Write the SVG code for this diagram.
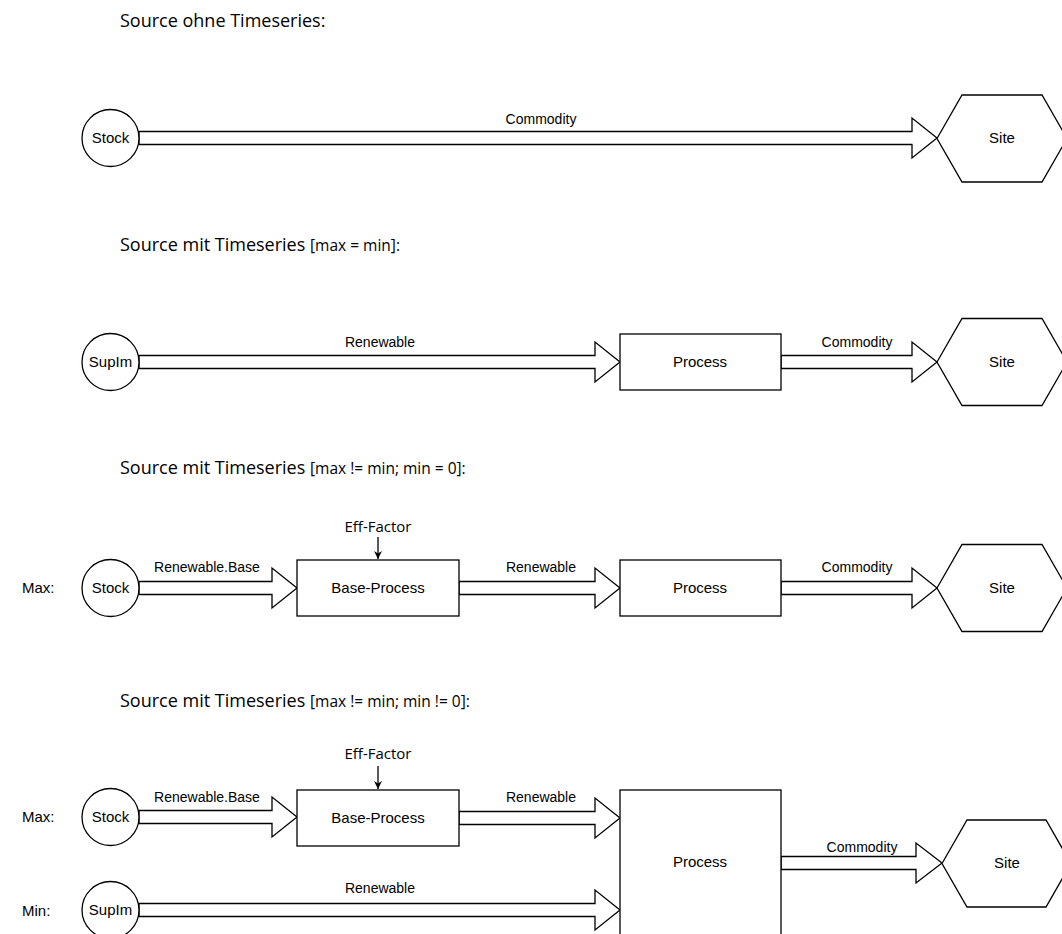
<svg xmlns="http://www.w3.org/2000/svg" width="1062" height="934" viewBox="0 0 1062 934">
<style>
.shape{fill:#fff;stroke:#000;stroke-width:1.3}
.arrow{fill:#fff;stroke:#000;stroke-width:1.3;stroke-linejoin:miter}
.nl{font-family:"Liberation Sans",Arial,sans-serif;font-size:15px;fill:#000;text-anchor:middle}
.el{font-family:"Liberation Sans",Arial,sans-serif;font-size:14px;fill:#000;text-anchor:middle}
.side{font-family:"Liberation Sans",Arial,sans-serif;font-size:15px;fill:#000}
.title{font-family:"Open Sans",sans-serif;font-size:18px;fill:#000}
.small{font-size:15.5px}
.eff{font-family:"Open Sans",sans-serif;font-size:15px;fill:#000;text-anchor:middle}
</style>
<defs>
<marker id="ah" viewBox="0 0 10 10" refX="10" refY="5" markerWidth="8" markerHeight="8" markerUnits="userSpaceOnUse" orient="auto">
<path d="M0,0 L10,5 L0,10 L3,5 Z" fill="#000"/>
</marker>
</defs>
<rect width="1062" height="934" fill="#fff"/>

<!-- titles -->
<text class="title" x="120" y="27">Source ohne Timeseries:</text>
<text class="title" x="120" y="251">Source mit Timeseries <tspan class="small">[max = min]:</tspan></text>
<text class="title" x="120" y="474">Source mit Timeseries <tspan class="small">[max != min; min = 0]:</tspan></text>
<text class="title" x="120" y="707">Source mit Timeseries <tspan class="small">[max != min; min != 0]:</tspan></text>

<text class="side" x="22" y="593">Max:</text>
<text class="side" x="22" y="822">Max:</text>
<text class="side" x="22" y="916">Min:</text>

<!-- connectors -->
<g id="connectors">
<polygon class="arrow" points="139,131.5 912,131.5 912,118 937,138 912,158 912,144.5 139,144.5"/>
<text class="el" x="541" y="124">Commodity</text>

<polygon class="arrow" points="139,355.5 595,355.5 595,342 620,362 595,382 595,368.5 139,368.5"/>
<text class="el" x="380" y="347">Renewable</text>
<polygon class="arrow" points="781,355.5 912,355.5 912,342 937,362 912,382 912,368.5 781,368.5"/>
<text class="el" x="857" y="347">Commodity</text>

<polygon class="arrow" points="139,581.5 272,581.5 272,568 297,588 272,608 272,594.5 139,594.5"/>
<text class="el" x="207" y="572">Renewable.Base</text>
<polygon class="arrow" points="459,581.5 595,581.5 595,568 620,588 595,608 595,594.5 459,594.5"/>
<text class="el" x="541" y="572">Renewable</text>
<polygon class="arrow" points="781,581.5 912,581.5 912,568 937,588 912,608 912,594.5 781,594.5"/>
<text class="el" x="857" y="572">Commodity</text>
<line x1="378" y1="537" x2="378" y2="559" stroke="#000" stroke-width="1.3" marker-end="url(#ah)"/>
<text class="eff" x="378" y="532">Eff-Factor</text>

<polygon class="arrow" points="139,810.5 272,810.5 272,797 297,817 272,837 272,823.5 139,823.5"/>
<text class="el" x="207" y="802">Renewable.Base</text>
<polygon class="arrow" points="459,811.5 595,811.5 595,798 620,818 595,838 595,824.5 459,824.5"/>
<text class="el" x="541" y="802">Renewable</text>
<polygon class="arrow" points="139,903.5 595,903.5 595,890 620,910 595,930 595,916.5 139,916.5"/>
<text class="el" x="380" y="893">Renewable</text>
<polygon class="arrow" points="781,856.5 916,856.5 916,843 942,863 916,883 916,869.5 781,869.5"/>
<text class="el" x="862" y="852">Commodity</text>
<line x1="378" y1="766" x2="378" y2="789" stroke="#000" stroke-width="1.3" marker-end="url(#ah)"/>
<text class="eff" x="378" y="759">Eff-Factor</text>
</g>

<!-- section 1 -->
<g id="stock1"><circle class="shape" cx="110.5" cy="138" r="28.5"/><text class="nl" x="110.5" y="143">Stock</text></g>
<g id="site1"><polygon class="shape" points="937,138.5 962,95 1042,95 1067,138.5 1042,182 962,182"/><text class="nl" x="1002" y="143">Site</text></g>

<!-- section 2 -->
<g id="supim2"><circle class="shape" cx="110.5" cy="362" r="28.5"/><text class="nl" x="110.5" y="367">SupIm</text></g>
<g id="process2"><rect class="shape" x="620" y="334" width="161" height="56"/><text class="nl" x="700" y="367">Process</text></g>
<g id="site2"><polygon class="shape" points="937,362 962,318.5 1042,318.5 1067,362 1042,405.5 962,405.5"/><text class="nl" x="1002" y="367">Site</text></g>

<!-- section 3 -->
<g id="stock3"><circle class="shape" cx="110.5" cy="588" r="28.5"/><text class="nl" x="110.5" y="593">Stock</text></g>
<g id="baseprocess3"><rect class="shape" x="297" y="560" width="162" height="56"/><text class="nl" x="378" y="593">Base-Process</text></g>
<g id="process3"><rect class="shape" x="620" y="560" width="161" height="56"/><text class="nl" x="700" y="593">Process</text></g>
<g id="site3"><polygon class="shape" points="937,588 962,544.5 1042,544.5 1067,588 1042,631.5 962,631.5"/><text class="nl" x="1002" y="593">Site</text></g>

<!-- section 4 -->
<g id="stock4"><circle class="shape" cx="110.5" cy="817" r="28.5"/><text class="nl" x="110.5" y="822">Stock</text></g>
<g id="baseprocess4"><rect class="shape" x="297" y="790" width="162" height="56"/><text class="nl" x="378" y="823">Base-Process</text></g>
<g id="supim4"><circle class="shape" cx="110.5" cy="910" r="28.5"/><text class="nl" x="110.5" y="915">SupIm</text></g>
<g id="process4"><rect class="shape" x="620" y="790" width="161" height="150"/><text class="nl" x="700" y="867">Process</text></g>
<g id="site4"><polygon class="shape" points="942,863.5 967,820 1046,820 1071,863.5 1046,907 967,907"/><text class="nl" x="1007" y="868">Site</text></g>
</svg>
